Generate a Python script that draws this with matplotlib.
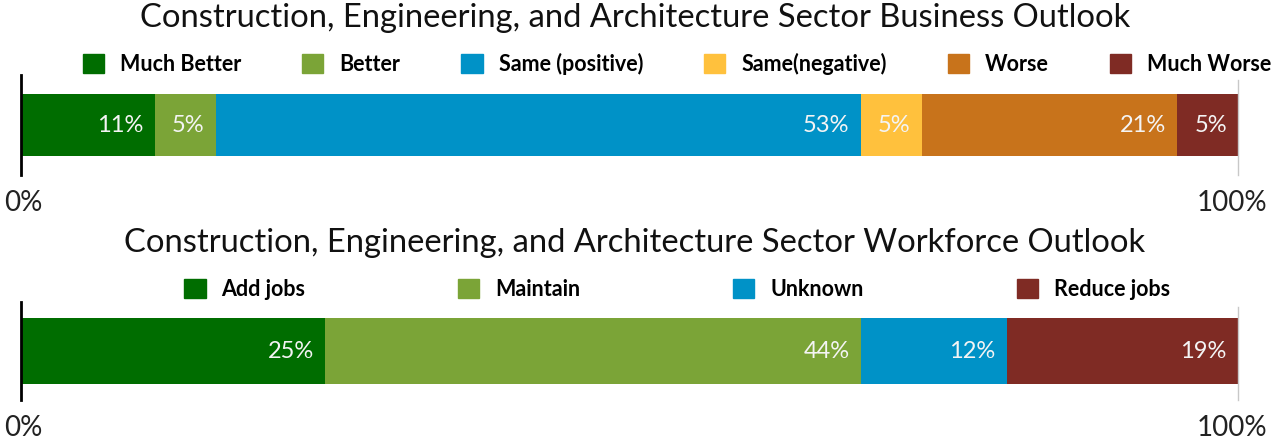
import matplotlib.pyplot as plt
import matplotlib.transforms as mtransforms
from matplotlib.patches import Patch

plt.rcParams['font.family'] = ['Lato', 'DejaVu Sans']

# data
business_title = "Construction, Engineering, and Architecture Sector Business Outlook"
business_labels = ["Much Better", "Better", "Same (positive)", "Same(negative)", "Worse", "Much Worse"]
business_values = [11, 5, 53, 5, 21, 5]
business_colors = ["#006d00", "#7ba437", "#0092c7", "#ffc13d", "#c8731b", "#7f2b24"]

workforce_title = "Construction, Engineering, and Architecture Sector Workforce Outlook"
workforce_labels = ["Add jobs", "Maintain", "Unknown", "Reduce jobs"]
workforce_values = [25, 44, 12, 19]
workforce_colors = ["#006d00", "#7ba437", "#0092c7", "#7f2b24"]

tick_vals = [0, 100]
tick_labels = ["0%", "100%"]

fig = plt.figure(figsize=(12.71, 4.45), dpi=100)


def stacked(ax, values, colors, bar_h):
    left = 0
    for v, c in zip(values, colors):
        ax.barh(0, v, left=left, height=bar_h, color=c, edgecolor='none')
        ax.annotate(f"{v}%", xy=(left + v, 0), xytext=(-8, 0), textcoords='offset points',
                    ha='right', va='center', color='#f4f4f4', fontsize=17)
        left += v
    ax.set_xlim(0, 100)
    ax.set_ylim(-0.5, 0.5)
    ax.set_yticks([])
    ax.set_xticks(tick_vals)
    ax.set_xticklabels(tick_labels, fontsize=20, color='#222222')
    ax.tick_params(axis='x', length=0, pad=11)
    # nudge the labels inward so they stay inside the figure
    shifts = [2, -6]
    for lab, dx in zip(ax.get_xticklabels(), shifts):
        lab.set_transform(lab.get_transform() +
                          mtransforms.ScaledTranslation(dx / 100, 0, fig.dpi_scale_trans))
    for s in ['top', 'bottom']:
        ax.spines[s].set_visible(False)
    ax.spines['left'].set_color('black')
    ax.spines['left'].set_linewidth(2)
    ax.spines['right'].set_color('#c8c8c8')
    ax.spines['right'].set_linewidth(1)
    ax.spines['right'].set_bounds(-0.5, 0.45)


ax1 = fig.add_axes([0.01652, 0.6067, 0.9575, 0.2247])
stacked(ax1, business_values, business_colors, 0.62)
ax2 = fig.add_axes([0.01652, 0.1011, 0.9575, 0.2202])
stacked(ax2, workforce_values, workforce_colors, 0.67)

fig.text(0.4996, 0.9596, business_title, ha='center', va='center', fontsize=23.6, color='#111111')
fig.text(0.4996, 0.4539, workforce_title, ha='center', va='center', fontsize=23.6, color='#111111')

h1 = [Patch(color=c, label=l) for l, c in zip(business_labels, business_colors)]
fig.legend(handles=h1, loc='center', bbox_to_anchor=(0.5327, 0.857), ncol=6, frameon=False,
           prop={'weight': 'bold', 'size': 15.5}, handlelength=0.98, handleheight=0.98,
           handletextpad=0.74, columnspacing=2.85)
h2 = [Patch(color=c, label=l) for l, c in zip(workforce_labels, workforce_colors)]
fig.legend(handles=h2, loc='center', bbox_to_anchor=(0.5327, 0.349), ncol=4, frameon=False,
           prop={'weight': 'bold', 'size': 15.5}, handlelength=0.98, handleheight=0.98,
           handletextpad=0.74, columnspacing=7.1)

fig.savefig("out.png", dpi=100)
